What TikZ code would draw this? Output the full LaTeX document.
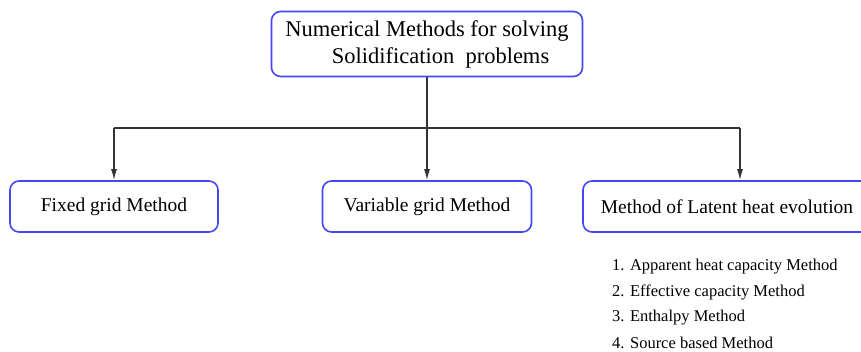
\documentclass[tikz,border=0pt]{standalone}
\usepackage{fontspec}
\setmainfont{Liberation Serif}
\usepackage{tikz}
\usetikzlibrary{arrows.meta}

\definecolor{boxblue}{RGB}{70,70,245}

\begin{document}
\begin{tikzpicture}[x=1pt,y=1pt]
    \tikzset{method/.style = {shape=rectangle, draw=boxblue, line width=1.6pt, rounded corners=9pt, fill=white}}
    \tikzset{edge/.style = {-{Latex[length=11pt,width=6pt]}, line width=1.3pt, draw=black!80}}
    \tikzset{item/.style = {anchor=west, inner sep=0pt, font=\fontsize{16.5}{20}\selectfont}}

    \useasboundingbox (0,0) rectangle (861,351);
    \clip (0,0) rectangle (861,351);

    \node[method, minimum width=311pt, minimum height=65pt, align=center,
          font=\fontsize{22.5}{27}\selectfont] (numerical) at (427,307)
          {Numerical Methods for solving\\ \hspace{1.2em}Solidification\ \ problems};

    \node[method, minimum width=208pt, minimum height=51pt, font=\fontsize{19.5}{23}\selectfont] (fixed) at (114,144.5) {Fixed grid Method};
    \node[method, minimum width=209pt, minimum height=51pt, font=\fontsize{19.5}{23}\selectfont] (variable) at (427,144.5) {Variable grid Method};
    \node[method, minimum width=314pt, minimum height=51pt, font=\fontsize{19.5}{23}\selectfont] (latent) at (740,144.5) {\hspace{-26pt}Method of Latent heat evolution};

    \node[item] (apparent) at (612,84) {1. Apparent heat capacity Method};
    \node[item] (effective) at (612,58.5) {2. Effective capacity Method};
    \node[item] (enthalpy) at (612,33) {3. Enthalpy Method};
    \node[item] (source) at (612,8) {4. Source based Method};

    \coordinate (split) at (427,223);

    \draw[edge, -] (numerical) -- (split);
    \draw[edge, -] (split -| fixed) -- (split -| latent);
    \draw[edge] (split -| fixed) -- (fixed);
    \draw[edge] (split) -- (variable);
    \draw[edge] (split -| latent) -- (latent);
\end{tikzpicture}
\end{document}
